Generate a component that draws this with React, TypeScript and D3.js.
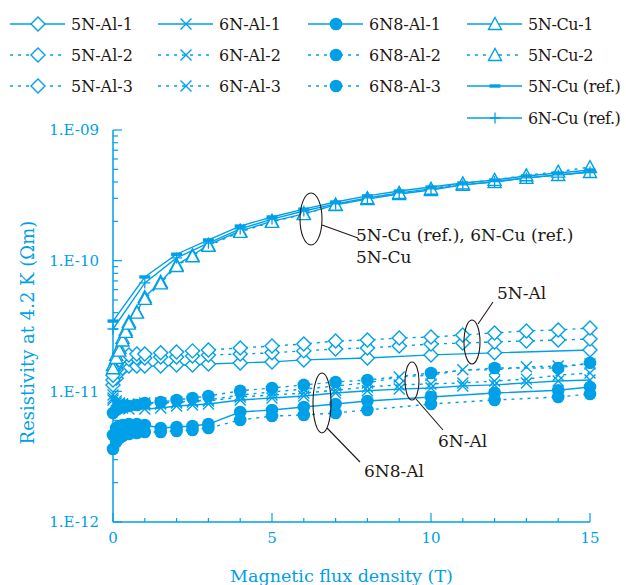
import React from 'react';
import * as d3 from 'd3';

const BLUE = '#00a0e9';
const INK = '#231815';

// magnetic flux density points (T)
const bFull = [0, 0.1, 0.2, 0.3, 0.5, 0.75, 1, 1.5, 2, 2.5, 3, 4, 5, 6, 7, 8, 9, 10, 11, 12, 13, 14, 15];
const b5nAl1 = [0, 0.1, 0.2, 0.3, 0.5, 0.75, 1, 1.5, 2, 2.5, 3, 4, 5, 6, 8, 10, 12, 15];
const b6nAl = [0, 0.1, 0.2, 0.3, 0.5, 1, 1.5, 2, 2.5, 3, 4, 5, 6, 7, 8, 9, 10, 11, 12, 13, 14, 15];
const b6n8Al = [0, 0.1, 0.2, 0.3, 0.5, 0.75, 1, 1.5, 2, 2.5, 3, 4, 5, 6, 7, 8, 10, 12, 14, 15];
const bCu = [0, 0.1, 0.2, 0.3, 0.4, 0.5, 0.75, 1, 1.5, 2, 2.5, 3, 4, 5, 6, 7, 8, 9, 10, 11, 12, 13, 14, 15];
const bRef = [0, 1, 2, 3, 4, 5, 6, 7, 8, 9, 10, 11, 12, 13, 14, 15];

// resistivity at 4.2 K (x1e-11 Ωm for Al, x1e-10 Ωm for Cu)
const al5n1 = [1.12, 1.26, 1.41, 1.51, 1.56, 1.56, 1.56, 1.56, 1.59, 1.59, 1.62, 1.65, 1.68, 1.74, 1.80, 1.90, 1.97, 2.07];
const al5n2 = [1.22, 1.46, 1.62, 1.71, 1.77, 1.80, 1.80, 1.83, 1.83, 1.86, 1.90, 1.93, 1.97, 2.04, 2.11, 2.15, 2.22, 2.30, 2.34, 2.39, 2.43, 2.47, 2.51];
const al5n3 = [1.33, 1.59, 1.74, 1.83, 1.90, 1.93, 1.93, 1.97, 2.00, 2.04, 2.07, 2.15, 2.22, 2.30, 2.43, 2.47, 2.56, 2.60, 2.70, 2.80, 2.90, 2.95, 3.05];
const al6n1 = [0.858, 0.786, 0.759, 0.745, 0.732, 0.732, 0.745, 0.772, 0.786, 0.80, 0.858, 0.889, 0.921, 0.97, 1.01, 1.04, 1.06, 1.10, 1.12, 1.16, 1.20, 1.22];
const al6n2 = [0.937, 0.843, 0.814, 0.80, 0.786, 0.786, 0.80, 0.814, 0.829, 0.843, 0.905, 0.937, 0.97, 1.02, 1.08, 1.12, 1.14, 1.16, 1.20, 1.24, 1.33, 1.38];
const al6n3 = [0.889, 0.814, 0.80, 0.80, 0.80, 0.814, 0.814, 0.829, 0.843, 0.858, 0.937, 0.99, 1.04, 1.10, 1.16, 1.29, 1.33, 1.46, 1.46, 1.54, 1.56, 1.62];
const al6n8_1 = [0.463, 0.524, 0.543, 0.552, 0.562, 0.562, 0.552, 0.524, 0.533, 0.543, 0.562, 0.695, 0.72, 0.759, 0.80, 0.843, 0.905, 0.97, 1.02, 1.08];
const al6n8_2 = [0.683, 0.72, 0.745, 0.759, 0.772, 0.786, 0.814, 0.829, 0.858, 0.889, 0.921, 1.01, 1.06, 1.12, 1.18, 1.22, 1.38, 1.51, 1.51, 1.65];
const al6n8_3 = [0.362, 0.409, 0.44, 0.455, 0.471, 0.48, 0.488, 0.488, 0.497, 0.506, 0.524, 0.603, 0.647, 0.659, 0.683, 0.72, 0.80, 0.858, 0.905, 0.954];
const cu5n1 = [0.159, 0.19, 0.215, 0.257, 0.295, 0.34, 0.405, 0.527, 0.69, 0.93, 1.10, 1.32, 1.69, 2.00, 2.28, 2.67, 2.96, 3.24, 3.47, 3.80, 4.00, 4.30, 4.53, 4.77];
const cu5n2 = [0.15, 0.18, 0.205, 0.245, 0.285, 0.33, 0.40, 0.51, 0.67, 0.91, 1.08, 1.30, 1.66, 1.98, 2.27, 2.68, 3.00, 3.30, 3.55, 3.90, 4.15, 4.50, 4.80, 5.20];
const cu5nRef = [0.345, 0.75, 1.12, 1.44, 1.84, 2.16, 2.48, 2.81, 3.13, 3.41, 3.66, 3.93, 4.14, 4.45, 4.69, 4.94];
const cu6nRef = [0.30, 0.675, 1.05, 1.36, 1.75, 2.08, 2.40, 2.72, 3.02, 3.30, 3.54, 3.80, 4.03, 4.30, 4.53, 4.77];

const yTickLabels = ['1.E-12', '1.E-11', '1.E-10', '1.E-09'];
const xTickLabels = [0, 5, 10, 15];

type Marker = 'diamond' | 'cross' | 'circle' | 'triangle' | 'bar' | 'plus';
type Series = { name: string; b: number[]; v: number[]; unit: number; dotted: boolean; marker: Marker };

const series: Series[] = [
  { name: '5N-Al-1', b: b5nAl1, v: al5n1, unit: 1e-11, dotted: false, marker: 'diamond' },
  { name: '5N-Al-2', b: bFull, v: al5n2, unit: 1e-11, dotted: true, marker: 'diamond' },
  { name: '5N-Al-3', b: bFull, v: al5n3, unit: 1e-11, dotted: true, marker: 'diamond' },
  { name: '6N-Al-1', b: b6nAl, v: al6n1, unit: 1e-11, dotted: false, marker: 'cross' },
  { name: '6N-Al-2', b: b6nAl, v: al6n2, unit: 1e-11, dotted: true, marker: 'cross' },
  { name: '6N-Al-3', b: b6nAl, v: al6n3, unit: 1e-11, dotted: true, marker: 'cross' },
  { name: '6N8-Al-1', b: b6n8Al, v: al6n8_1, unit: 1e-11, dotted: false, marker: 'circle' },
  { name: '6N8-Al-2', b: b6n8Al, v: al6n8_2, unit: 1e-11, dotted: true, marker: 'circle' },
  { name: '6N8-Al-3', b: b6n8Al, v: al6n8_3, unit: 1e-11, dotted: true, marker: 'circle' },
  { name: '5N-Cu-1', b: bCu, v: cu5n1, unit: 1e-10, dotted: false, marker: 'triangle' },
  { name: '5N-Cu-2', b: bCu, v: cu5n2, unit: 1e-10, dotted: true, marker: 'triangle' },
  { name: '5N-Cu (ref.)', b: bRef, v: cu5nRef, unit: 1e-10, dotted: false, marker: 'bar' },
  { name: '6N-Cu (ref.)', b: bRef, v: cu6nRef, unit: 1e-10, dotted: false, marker: 'plus' },
];

const legendCols = [10, 158, 308, 467];
const legendRows = [24, 55, 86, 118];
const legendSlots = [
  [0, 0], [0, 1], [0, 2],
  [1, 0], [1, 1], [1, 2],
  [2, 0], [2, 1], [2, 2],
  [3, 0], [3, 1], [3, 2], [3, 3],
];

const serif = '"DejaVu Serif", serif';
const DASH = '3 5';

const MarkerShape = ({ type, x, y }: { type: Marker; x: number; y: number }) => {
  const t = `translate(${x},${y})`;
  if (type === 'diamond')
    return <path transform={t} d="M0,-7L7,0L0,7L-7,0Z" fill="#fff" stroke={BLUE} strokeWidth={1.4} />;
  if (type === 'cross')
    return <path transform={t} d="M-5.5,-5.5L5.5,5.5M-5.5,5.5L5.5,-5.5" fill="none" stroke={BLUE} strokeWidth={1.4} />;
  if (type === 'circle') return <circle cx={x} cy={y} r={6.3} fill={BLUE} />;
  if (type === 'triangle')
    return <path transform={t} d="M0,-6.5L6.5,5.5L-6.5,5.5Z" fill="#fff" stroke={BLUE} strokeWidth={1.4} />;
  if (type === 'bar') return <rect x={x - 5.5} y={y - 1.7} width={11} height={3.4} fill={BLUE} />;
  return <path transform={t} d="M0,-5.5L0,5.5M-5.5,0L5.5,0" fill="none" stroke={BLUE} strokeWidth={1.3} />;
};

export default function App() {
  const x = d3.scaleLinear().domain([0, 15]).range([113, 590]);
  const y = d3.scaleLog().domain([1e-12, 1e-9]).range([522, 130]);

  const line = d3
    .line<[number, number]>()
    .x(d => x(d[0]))
    .y(d => y(d[1]));

  const pts = (s: Series): [number, number][] => s.b.map((b, i) => [b, s.v[i] * s.unit]);

  const yMinor: number[] = [];
  for (let e = -12; e < -9; e++) for (let k = 1; k < 10; k++) yMinor.push(k * Math.pow(10, e));
  yMinor.push(1e-9);
  const xMinor = d3.range(0, 16);

  return (
    <svg width={626} height={585} style={{ position: 'absolute', left: 0, top: 0, background: '#fff' }}>
      {/* axes */}
      <g stroke={BLUE} strokeWidth={1.5} fill="none">
        <line x1={x(0)} x2={x(0)} y1={y(1e-9)} y2={y(1e-12)} />
        <line x1={x(0)} x2={x(15)} y1={y(1e-12)} y2={y(1e-12)} />
        {yMinor.map((v, i) => {
          const major = Math.abs(Math.log10(v) - Math.round(Math.log10(v))) < 1e-9;
          return <line key={i} x1={x(0)} x2={x(0) + (major ? 9 : 5)} y1={y(v)} y2={y(v)} strokeWidth={1.2} />;
        })}
        {xMinor.map(b => (
          <line key={b} x1={x(b)} x2={x(b)} y1={y(1e-12)} y2={y(1e-12) - (b % 5 === 0 ? 9 : 4)} strokeWidth={1.2} />
        ))}
      </g>
      <g fill={BLUE} fontFamily={serif} fontSize={15}>
        {yTickLabels.map((l, i) => (
          <text key={l} x={99} y={y(Math.pow(10, -12 + i))} dy="0.35em" textAnchor="end">{l}</text>
        ))}
        {xTickLabels.map(v => (
          <text key={v} x={x(v)} y={543} textAnchor="middle">{v}</text>
        ))}
      </g>
      <text x={x(7.5) - 10} y={582} fill={BLUE} fontFamily={serif} fontSize={17.5} textAnchor="middle">
        Magnetic flux density  (T)
      </text>
      <text
        transform={`translate(34,${y(Math.pow(10, -10.55))}) rotate(-90)`}
        fill={BLUE}
        fontFamily={serif}
        fontSize={18}
        textAnchor="middle"
      >
        Resistivity at 4.2 K (Ωm)
      </text>

      {/* series lines */}
      <g fill="none" stroke={BLUE} strokeWidth={1.4}>
        {series.map(s => (
          <path key={s.name} d={line(pts(s)) || ''} strokeDasharray={s.dotted ? DASH : undefined} />
        ))}
      </g>
      {/* markers */}
      {series.map(s => (
        <g key={s.name}>
          {pts(s).map((p, i) => (
            <MarkerShape key={i} type={s.marker} x={x(p[0])} y={y(p[1])} />
          ))}
        </g>
      ))}

      {/* annotations */}
      <g fill="none" stroke={INK} strokeWidth={1.1}>
        <ellipse cx={311} cy={219} rx={11} ry={26} />
        <line x1={322} y1={225} x2={358} y2={238} />
        <ellipse cx={472} cy={342} rx={8} ry={22} />
        <line x1={478} y1={324} x2={493} y2={302} />
        <ellipse cx={412} cy={381} rx={7} ry={19} />
        <line x1={416} y1={399} x2={443} y2={430} />
        <ellipse cx={322} cy={403} rx={9} ry={30} />
        <line x1={327} y1={428} x2={360} y2={462} />
      </g>
      <g fill={INK} fontFamily={serif} fontSize={17}>
        <text x={356} y={241}>5N-Cu (ref.), 6N-Cu (ref.)</text>
        <text x={356} y={263}>5N-Cu</text>
        <text x={497} y={299}>5N-Al</text>
        <text x={438} y={447}>6N-Al</text>
        <text x={364} y={477}>6N8-Al</text>
      </g>

      {/* legend */}
      {series.map((s, i) => {
        const [c, r] = legendSlots[i];
        const lx = legendCols[c];
        const ly = legendRows[r];
        return (
          <g key={s.name}>
            <line x1={lx} x2={lx + 55} y1={ly} y2={ly} stroke={BLUE} strokeWidth={1.4} strokeDasharray={s.dotted ? DASH : undefined} />
            <MarkerShape type={s.marker} x={lx + 28} y={ly} />
            <text
              x={lx + 61}
              y={ly}
              dy="0.35em"
              fill={INK}
              fontFamily={serif}
              fontSize={16}
              letterSpacing={c === 3 ? -0.4 : 0}
            >
              {s.name}
            </text>
          </g>
        );
      })}
    </svg>
  );
}
